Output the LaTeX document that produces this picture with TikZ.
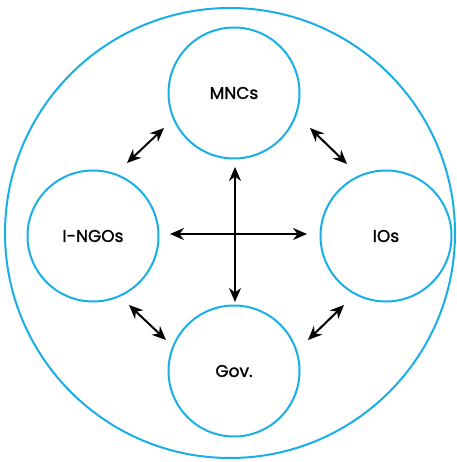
\documentclass[tikz,border=0pt]{standalone}
\usepackage{fontspec}
\setmainfont{Poppins}[FakeBold=1.4]
\usetikzlibrary{arrows.meta}
\definecolor{ringblue}{HTML}{1AAEE6}
\tikzset{
  actor/.style={circle, draw=ringblue, line width=2pt, minimum size=131pt, inner sep=0pt, font=\fontsize{17}{20}\selectfont},
  link/.style={line width=2pt, {Stealth[length=14pt,width=12pt]}-{Stealth[length=14pt,width=12pt]}},
}
\begin{document}
\begin{tikzpicture}[x=1pt,y=-1pt]
  \useasboundingbox (0,0) rectangle (456,462);
  % outer boundary
  \node[circle, draw=ringblue, line width=2pt, minimum size=450pt, inner sep=0pt] (world) at (230,233) {};
  % the four actors
  \node[actor] (mnc) at (234,93) {MNCs};
  \node[actor] (ingo) at (93,236) {I-NGOs};
  \node[actor] (io) at (386,236) {IOs};
  \node[actor] (gov) at (234,371) {Gov.};
  % arrow end points
  \coordinate (vt) at (235,167);
  \coordinate (vb) at (235,302);
  \coordinate (hl) at (170,234);
  \coordinate (hr) at (307,234);
  \coordinate (ul1) at (127,163);
  \coordinate (ul2) at (164,128);
  \coordinate (ur1) at (310,128);
  \coordinate (ur2) at (347,164);
  \coordinate (ll1) at (129,305);
  \coordinate (ll2) at (166,340);
  \coordinate (lr1) at (308,340);
  \coordinate (lr2) at (344,305);
  % connectors
  \draw[link] (vt) -- (vb);
  \draw[link] (hl) -- (hr);
  \draw[link] (ul1) -- (ul2);
  \draw[link] (ur1) -- (ur2);
  \draw[link] (ll1) -- (ll2);
  \draw[link] (lr1) -- (lr2);
\end{tikzpicture}
\end{document}
